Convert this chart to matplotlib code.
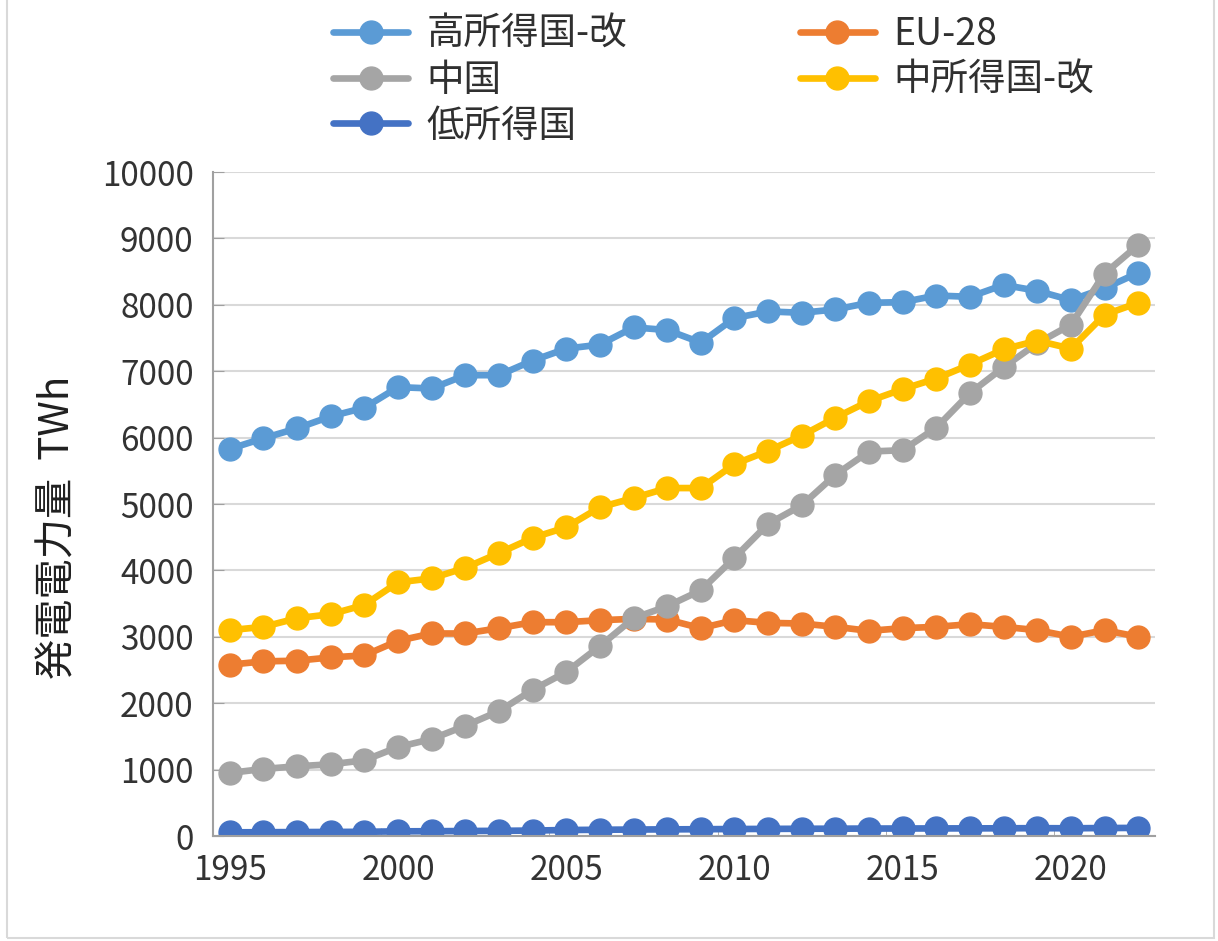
import numpy as np
import matplotlib
matplotlib.use("Agg")
from matplotlib import pyplot as plt
from matplotlib.patches import Rectangle
import matplotlib.ticker as plticker

plt.rcParams['font.family'] = ['Noto Sans CJK JP', 'DejaVu Sans']

years = list(range(1995, 2023))

high_income = [5830, 5990, 6140, 6320, 6450, 6760, 6740, 6940, 6940, 7160,
               7340, 7400, 7660, 7620, 7430, 7800, 7900, 7880, 7930, 8030,
               8040, 8140, 8120, 8300, 8210, 8070, 8250, 8480]
eu28 = [2580, 2630, 2640, 2690, 2720, 2940, 3050, 3050, 3130, 3220,
        3220, 3250, 3270, 3260, 3130, 3250, 3210, 3200, 3150, 3090,
        3130, 3150, 3190, 3150, 3100, 3000, 3100, 3000]
china = [950, 1010, 1050, 1080, 1140, 1340, 1460, 1660, 1880, 2200,
         2470, 2860, 3280, 3460, 3700, 4190, 4700, 4980, 5440, 5790,
         5810, 6150, 6670, 7060, 7420, 7700, 8470, 8900]
middle_income = [3100, 3150, 3280, 3340, 3480, 3820, 3880, 4040, 4260, 4490,
                 4650, 4950, 5090, 5240, 5240, 5600, 5800, 6030, 6300, 6550,
                 6730, 6890, 7100, 7330, 7460, 7340, 7850, 8030]
low_income = [55, 57, 59, 61, 63, 70, 72, 75, 78, 82,
              90, 94, 97, 100, 102, 105, 107, 109, 110, 112,
              113, 114, 115, 116, 118, 116, 120, 122]

series = [
    ("高所得国-改", high_income, "#5B9BD5"),
    ("EU-28", eu28, "#ED7D31"),
    ("中国", china, "#A5A5A5"),
    ("中所得国-改", middle_income, "#FFC000"),
    ("低所得国", low_income, "#4472C4"),
]

fig = plt.figure(figsize=(12.18, 9.41), dpi=100)
ax = fig.add_axes([213 / 1218, 1 - 836 / 941, (1155 - 213) / 1218, (836 - 172) / 941])

handles = {}
for name, vals, col in series:
    h, = ax.plot(years, vals, color=col, lw=4.8, marker='o', ms=16.5,
                 label=name, solid_capstyle='round')
    handles[name] = h

ax.set_xlim(1994.5, 2022.5)
ax.set_ylim(0, 10000)
ax.yaxis.set_major_locator(plticker.MultipleLocator(1000))
ax.set_xticks([1995, 2000, 2005, 2010, 2015, 2020])
ax.xaxis.set_minor_locator(plticker.FixedLocator([1999.5, 2004.5, 2009.5, 2014.5, 2019.5]))
ax.tick_params(axis='x', which='major', length=0, labelsize=24, pad=12, colors='#333333')
ax.tick_params(axis='x', which='minor', length=6, direction='in', color='#A0A0A0')
ax.tick_params(axis='y', length=8, direction='in', labelsize=24, pad=14, colors='#333333')
ax.tick_params(axis='y', color='#A0A0A0')

ax.grid(axis='y', color='#D9D9D9', lw=1.5)
ax.set_axisbelow(True)
for s in ['top', 'right']:
    ax.spines[s].set_visible(False)
for s in ['left', 'bottom']:
    ax.spines[s].set_color('#A0A0A0')
    ax.spines[s].set_linewidth(1.5)

ax.set_ylabel("発電電力量  TWh", fontsize=29, color='#202020')
ax.yaxis.set_label_coords(-0.143, 0.465)

order = ["高所得国-改", "中国", "低所得国", "EU-28", "中所得国-改"]
fig.legend([handles[n] for n in order], order, ncol=2, frameon=False,
           loc='upper left', bbox_to_anchor=(333 / 1218, 1 - 15 / 941),
           fontsize=27, handlelength=2.0, handletextpad=0.5,
           columnspacing=4.6, labelspacing=0.18, borderpad=0, borderaxespad=0,
           labelcolor='#303030')

fig.patches.append(Rectangle((7 / 1218, 3 / 941), 1 - 11 / 1218, 1.1, transform=fig.transFigure,
                             fill=False, edgecolor='#D9D9D9', lw=1.5))

fig.savefig("out.png", dpi=100)
